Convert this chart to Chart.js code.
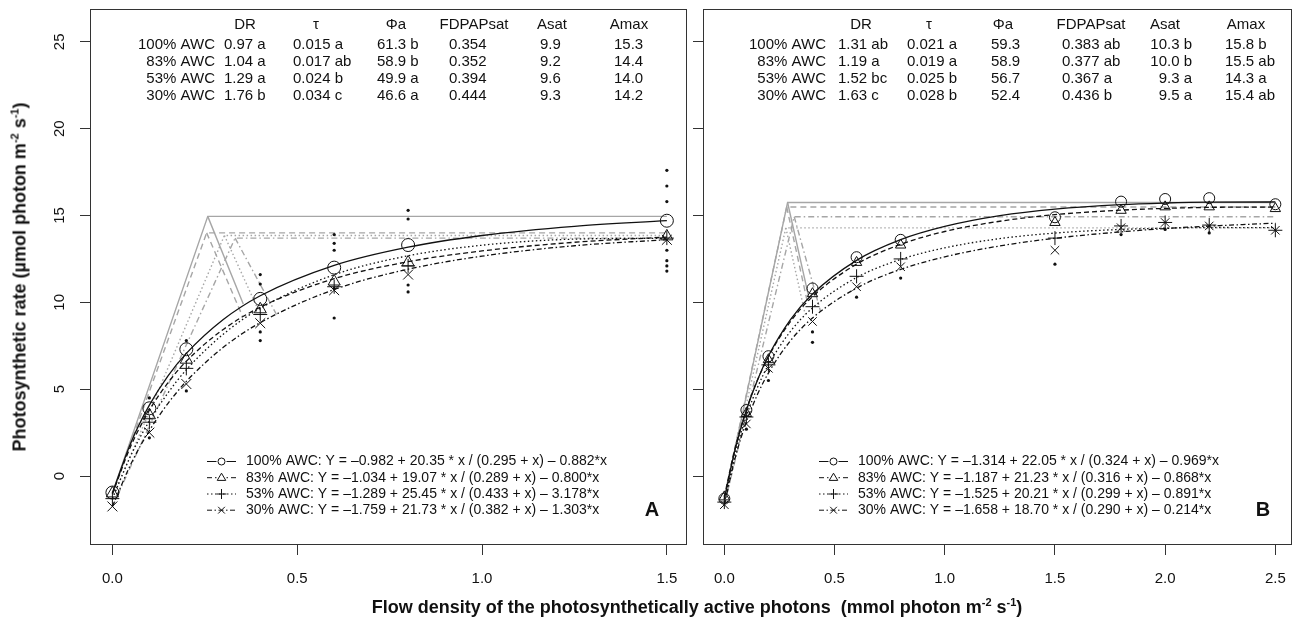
<!DOCTYPE html>
<html>
<head>
<meta charset="utf-8">
<script src="https://cdn.jsdelivr.net/npm/chart.js@4.4.1/dist/chart.umd.min.js"></script>
<style>
  body { margin: 0; background: #fff; width: 1301px; height: 623px; overflow: hidden; position: relative;
         font-family: "Liberation Sans", Arial, sans-serif; color: #111; }
  #ca { position: absolute; left: 0; top: 0; }
  #cb { position: absolute; left: 690px; top: 0; }
  .ytitle { position: absolute; left: 20px; top: 277px; transform: translate(-50%, -50%) rotate(-90deg);
            font-weight: bold; font-size: 18px; white-space: nowrap; }
  .xtitle { position: absolute; left: 697px; top: 607px; transform: translate(-50%, -50%);
            font-weight: bold; font-size: 18px; white-space: nowrap; }
  sup { font-size: 11px; vertical-align: 7px; line-height: 0; }
</style>
</head>
<body>
<canvas id="ca" width="695" height="623"></canvas>
<canvas id="cb" width="611" height="623"></canvas>
<div class="ytitle">Photosynthetic rate (µmol photon m<sup>-2</sup> s<sup>-1</sup>)</div>
<div class="xtitle">Flow density of the photosynthetically active photons&nbsp; (mmol photon m<sup>-2</sup> s<sup>-1</sup>)</div>
<script>
const awc = ['100% AWC', '83% AWC', '53% AWC', '30% AWC'];
const yTicks = [0, 5, 10, 15, 20, 25];
const xTicksA = [0, 0.5, 1.0, 1.5];
const xTicksB = [0, 0.5, 1.0, 1.5, 2.0, 2.5];
const heads = ['DR', 'τ', 'Φa', 'FDPAPsat', 'Asat', 'Amax'];

// ---- panel A ----
const xMeanA = [0, 0.1, 0.2, 0.4, 0.6, 0.8, 1.5];
const meanA100 = [-0.95, 3.9, 7.3, 10.2, 12.0, 13.3, 14.7];
const meanA83 = [-1.0, 3.5, 6.7, 9.6, 11.2, 12.3, 13.8];
const meanA53 = [-1.3, 3.1, 6.2, 9.3, 10.9, 12.1, 13.7];
const meanA30 = [-1.75, 2.5, 5.3, 8.8, 10.7, 11.6, 13.6];
const xRepA = [0.1, 0.1, 0.2, 0.2, 0.4, 0.4, 0.4, 0.4, 0.6, 0.6, 0.6, 0.6, 0.6, 0.8, 0.8, 0.8, 0.8, 1.5, 1.5, 1.5, 1.5, 1.5, 1.5, 1.5];
const yRepA = [4.5, 2.2, 7.8, 4.9, 11.6, 11.05, 8.3, 7.8, 13.9, 13.4, 13.0, 10.8, 9.1, 15.3, 14.8, 11.0, 10.6, 17.6, 16.7, 15.8, 13.0, 12.4, 12.1, 11.8];
const xFitA = [0, 0.05, 0.1, 0.15, 0.2, 0.3, 0.4, 0.6, 0.8, 1.0, 1.25, 1.5];
const fitA100 = [-0.98, 1.92, 4.08, 5.75, 7.06, 9.01, 10.38, 12.13, 13.18, 13.85, 14.38, 14.70];
const fitA83 = [-1.03, 1.74, 3.79, 5.36, 6.61, 8.44, 9.72, 11.36, 12.34, 12.96, 13.46, 13.76];
const fitA53 = [-1.29, 1.19, 3.17, 4.78, 6.12, 8.17, 9.66, 11.59, 12.68, 13.29, 13.64, 13.69];
const fitA30 = [-1.76, 0.69, 2.62, 4.17, 5.45, 7.41, 8.83, 10.74, 11.91, 12.66, 13.26, 13.61];
const peakXA = [0.258, 0.255, 0.303, 0.332];
const peakYA = [14.95, 14.0, 13.85, 13.7];
const drA = ['0.97 a', '1.04 a', '1.29 a', '1.76 b'];
const tauA = ['0.015 a', '0.017 ab', '0.024 b', '0.034 c'];
const phiA = ['61.3 b', '58.9 b', '49.9 a', '46.6 a'];
const fdA = ['0.354', '0.352', '0.394', '0.444'];
const asatA = ['9.9', '9.2', '9.6', '9.3'];
const amaxA = ['15.3', '14.4', '14.0', '14.2'];
const satXA = [0.354, 0.352, 0.394, 0.444];
const satYA = [9.9, 9.2, 9.6, 9.3];
const eqA = ['Y = –0.982 + 20.35 * x / (0.295 + x) – 0.882*x',
             'Y = –1.034 + 19.07 * x / (0.289 + x) – 0.800*x',
             'Y = –1.289 + 25.45 * x / (0.433 + x) – 3.178*x',
             'Y = –1.759 + 21.73 * x / (0.382 + x) – 1.303*x'];

// ---- panel B ----
const xMeanB = [0, 0.1, 0.2, 0.4, 0.6, 0.8, 1.5, 1.8, 2.0, 2.2, 2.5];
const meanB100 = [-1.3, 3.8, 6.9, 10.8, 12.6, 13.6, 14.9, 15.8, 15.95, 16.0, 15.65];
const meanB83 = [-1.2, 3.6, 6.7, 10.5, 12.3, 13.3, 14.6, 15.3, 15.5, 15.5, 15.4];
const meanB53 = [-1.5, 3.4, 6.4, 9.75, 11.5, 12.5, 13.7, 14.4, 14.6, 14.45, 14.15];
const meanB30 = [-1.65, 3.0, 6.2, 8.9, 10.9, 12.05, 13.0, 14.3, 14.6, 14.4, 14.15];
const xRepB = [0.1, 0.2, 0.4, 0.4, 0.6, 0.8, 1.5, 1.8, 2.0, 2.2];
const yRepB = [2.7, 5.5, 8.3, 7.7, 10.3, 11.4, 12.2, 13.9, 14.2, 14.0];
const xFitB = [0, 0.05, 0.1, 0.15, 0.2, 0.3, 0.4, 0.6, 0.8, 1.0, 1.25, 1.5, 1.8, 2.0, 2.2, 2.5];
const fitB100 = [-1.31, 1.59, 3.79, 5.52, 6.91, 9.00, 10.48, 12.42, 13.61, 14.37, 14.99, 15.37, 15.63, 15.72, 15.77, 15.78];
const fitB83 = [-1.19, 1.67, 3.83, 5.52, 6.87, 8.89, 10.33, 12.20, 13.34, 14.08, 14.67, 15.05, 15.31, 15.41, 15.47, 15.49];
const fitB53 = [-1.53, 1.33, 3.45, 5.09, 6.40, 8.33, 9.68, 11.43, 12.47, 13.14, 13.67, 13.99, 14.20, 14.27, 14.31, 14.30];
const fitB30 = [-1.66, 1.08, 3.12, 4.69, 5.93, 7.79, 9.10, 10.82, 11.90, 12.62, 13.25, 13.69, 14.06, 14.25, 14.39, 14.56];
const peakXB = [0.287, 0.283, 0.279, 0.317];
const peakYB = [15.75, 15.49, 14.29, 14.93];
const drB = ['1.31 ab', '1.19 a', '1.52 bc', '1.63 c'];
const tauB = ['0.021 a', '0.019 a', '0.025 b', '0.028 b'];
const phiB = ['59.3', '58.9', '56.7', '52.4'];
const fdB = ['0.383 ab', '0.377 ab', '0.367 a', '0.436 b'];
const asatB = ['10.3 b', '10.0 b', '9.3 a', '9.5 a'];
const amaxB = ['15.8 b', '15.5 ab', '14.3 a', '15.4 ab'];
const satXB = [0.383, 0.377, 0.367, 0.436];
const satYB = [10.3, 10.0, 9.3, 9.5];
const eqB = ['Y = –1.314 + 22.05 * x / (0.324 + x) – 0.969*x',
             'Y = –1.187 + 21.23 * x / (0.316 + x) – 0.868*x',
             'Y = –1.525 + 20.21 * x / (0.299 + x) – 0.891*x',
             'Y = –1.658 + 18.70 * x / (0.290 + x) – 0.214*x'];

const marks = ['circle', 'triangle', 'cross', 'crossRot'];
const dashes = [[], [5, 3], [1.5, 2.5], [5, 2.5, 1.5, 2.5]];
const greyDashes = [[], [6, 4], [1.5, 2.5], [6, 3, 1.5, 3]];
const FONT = '"Liberation Sans", Arial, sans-serif';

const pts = (xs, ys) => xs.map((x, k) => ({ x: x, y: ys[k] }));

function drawMark(ctx, kind, x, y, r) {
  ctx.beginPath();
  if (kind === 'circle') ctx.arc(x, y, r, 0, Math.PI * 2);
  else if (kind === 'triangle') { ctx.moveTo(x, y - r); ctx.lineTo(x + r * 0.95, y + r * 0.6); ctx.lineTo(x - r * 0.95, y + r * 0.6); ctx.closePath(); }
  else if (kind === 'cross') { ctx.moveTo(x - r, y); ctx.lineTo(x + r, y); ctx.moveTo(x, y - r); ctx.lineTo(x, y + r); }
  else { ctx.moveTo(x - r * 0.75, y - r * 0.75); ctx.lineTo(x + r * 0.75, y + r * 0.75); ctx.moveTo(x + r * 0.75, y - r * 0.75); ctx.lineTo(x - r * 0.75, y + r * 0.75); }
  ctx.stroke();
}

const panelDecor = {
  id: 'panelDecor',
  afterDraw(chart, args, o) {
    const ctx = chart.ctx, ca = chart.chartArea, L = ca.left;
    ctx.save();
    ctx.strokeStyle = '#333'; ctx.lineWidth = 1; ctx.setLineDash([]);
    ctx.strokeRect(Math.round(ca.left) + 0.5, Math.round(ca.top) + 0.5, Math.round(ca.right - ca.left) - 1, Math.round(ca.bottom - ca.top) - 1);
    ctx.fillStyle = '#111';
    if (o.yLabels) {
      const ys = chart.scales.y;
      ctx.font = '15px ' + FONT; ctx.textAlign = 'center'; ctx.textBaseline = 'middle';
      yTicks.forEach(v => {
        ctx.save(); ctx.translate(o.yLabelX, ys.getPixelForValue(v)); ctx.rotate(-Math.PI / 2);
        ctx.fillText(String(v), 0, 0); ctx.restore();
      });
    }
    // table
    ctx.font = '15px ' + FONT; ctx.textBaseline = 'middle';
    ctx.textAlign = 'center';
    heads.forEach((h, j) => ctx.fillText(h, L + o.headX[j], o.rowY[0]));
    awc.forEach((g, i) => {
      ctx.textAlign = 'right';
      ctx.fillText(g, L + o.labelRight, o.rowY[i + 1]);
      o.cols.forEach((col, j) => {
        ctx.textAlign = o.colAlign[j];
        ctx.fillText(col[i], L + o.colX[j], o.rowY[i + 1]);
      });
    });
    // legend
    ctx.font = '14px ' + FONT;
    awc.forEach((g, i) => {
      const y = o.legY[i];
      ctx.strokeStyle = '#111'; ctx.lineWidth = 1;
      ctx.setLineDash(dashes[i]);
      ctx.beginPath(); ctx.moveTo(L + o.legLine[0], y); ctx.lineTo(L + o.legLine[1], y); ctx.stroke();
      ctx.setLineDash([]);
      const mx = L + (o.legLine[0] + o.legLine[1]) / 2;
      ctx.fillStyle = '#fff';
      if (i < 2) ctx.fillRect(mx - 5, y - 5, 10, 10);
      ctx.fillStyle = '#111';
      drawMark(ctx, marks[i], mx, y, [3.5, 4.5, 5, 4.5][i]);
      ctx.textAlign = 'left';
      ctx.fillText(g + ': ' + o.eq[i], L + o.legText, y);
    });
    ctx.font = 'bold 20px ' + FONT; ctx.textAlign = 'center';
    ctx.fillText(o.letter, L + o.letterX, o.letterY);
    ctx.restore();
  }
};

function makeChart(id, p) {
  const ds = [];
  p.means.forEach((m, i) => ds.push({
    data: pts(p.xMean, m), showLine: false, pointStyle: marks[i], pointRadius: p.markR[i],
    pointBorderColor: '#111', pointBackgroundColor: 'rgba(0,0,0,0)', pointBorderWidth: 1
  }));
  ds.push({ data: pts(p.xRep, p.yRep), showLine: false, pointStyle: 'circle', pointRadius: 1.6,
            pointBorderColor: '#111', pointBackgroundColor: '#111', pointBorderWidth: 0 });
  p.fits.forEach((f, i) => ds.push({
    data: pts(p.xFit, f), showLine: true, pointRadius: 0, borderColor: '#111', borderWidth: 1.3,
    borderDash: dashes[i], cubicInterpolationMode: 'monotone'
  }));
  const xEnd = p.xMean[p.xMean.length - 1];
  awc.forEach((g, i) => {
    ds.push({ data: [{ x: 0, y: p.fits[i][0] }, { x: p.peakX[i], y: p.peakY[i] }, { x: xEnd, y: p.peakY[i] }],
              showLine: true, pointRadius: 0, borderColor: '#a6a6a6', borderWidth: 1.4, borderDash: greyDashes[i] });
    ds.push({ data: [{ x: p.peakX[i], y: p.peakY[i] }, { x: p.satX[i], y: p.satY[i] }],
              showLine: true, pointRadius: 0, borderColor: '#a6a6a6', borderWidth: 1.4, borderDash: greyDashes[i] });
  });
  return new Chart(document.getElementById(id), {
    type: 'scatter',
    data: { datasets: ds },
    plugins: [panelDecor],
    options: {
      responsive: false, animation: false, events: [],
      layout: { padding: { top: 9, right: 5, left: 0, bottom: 0 } },
      plugins: { legend: { display: false }, tooltip: { enabled: false }, panelDecor: p.decor },
      scales: {
        x: {
          type: 'linear', min: p.xMin, max: p.xMax,
          afterBuildTicks: s => { s.ticks = p.xTicks.map(v => ({ value: v })); },
          afterFit: s => { s.height = 78; },
          ticks: { font: { size: 15, family: FONT }, color: '#111', padding: 15, maxRotation: 0, autoSkip: false,
                   callback: v => Number(v).toFixed(1) },
          grid: { drawOnChartArea: false, drawTicks: true, tickLength: 10, color: '#333' },
          border: { display: false }
        },
        y: {
          type: 'linear', min: -3.97, max: 26.89,
          afterBuildTicks: s => { s.ticks = yTicks.map(v => ({ value: v })); },
          afterFit: s => { s.width = p.yW; },
          ticks: { display: false },
          grid: { drawOnChartArea: false, drawTicks: true, tickLength: 10, color: '#333' },
          border: { display: false }
        }
      }
    }
  });
}

makeChart('ca', {
  xMean: xMeanA, means: [meanA100, meanA83, meanA53, meanA30], markR: [6.5, 7, 7, 7],
  xRep: xRepA, yRep: yRepA, xFit: xFitA, fits: [fitA100, fitA83, fitA53, fitA30],
  peakX: peakXA, peakY: peakYA, satX: satXA, satY: satYA,
  xMin: -0.0606, xMax: 1.5545, xTicks: xTicksA, yW: 90,
  decor: {
    yLabels: true, yLabelX: 60,
    headX: [155, 226, 306, 384, 462, 539], labelRight: 125,
    colX: [134, 203, 287, 359, 450, 524], colAlign: ['left', 'left', 'left', 'left', 'left', 'left'],
    cols: [drA, tauA, phiA, fdA, asatA, amaxA], rowY: [25, 44.5, 61.8, 79, 96.3],
    legLine: [117, 146], legText: 156, legY: [461.5, 477.7, 494, 510.2], eq: eqA,
    letter: 'A', letterX: 562, letterY: 510
  }
});

makeChart('cb', {
  xMean: xMeanB, means: [meanB100, meanB83, meanB53, meanB30], markR: [5.5, 6, 7, 6],
  xRep: xRepB, yRep: yRepB, xFit: xFitB, fits: [fitB100, fitB83, fitB53, fitB30],
  peakX: peakXB, peakY: peakYB, satX: satXB, satY: satYB,
  xMin: -0.0968, xMax: 2.574, xTicks: xTicksB, yW: 13,
  decor: {
    yLabels: false,
    headX: [158, 226, 300, 388, 462, 543], labelRight: 123,
    colX: [135, 204, 288, 359, 489, 522], colAlign: ['left', 'left', 'left', 'left', 'right', 'left'],
    cols: [drB, tauB, phiB, fdB, asatB, amaxB], rowY: [25, 44.5, 61.8, 79, 96.3],
    legLine: [116, 145], legText: 155, legY: [461.5, 477.7, 494, 510.2], eq: eqB,
    letter: 'B', letterX: 560, letterY: 510
  }
});
</script>
</body>
</html>
